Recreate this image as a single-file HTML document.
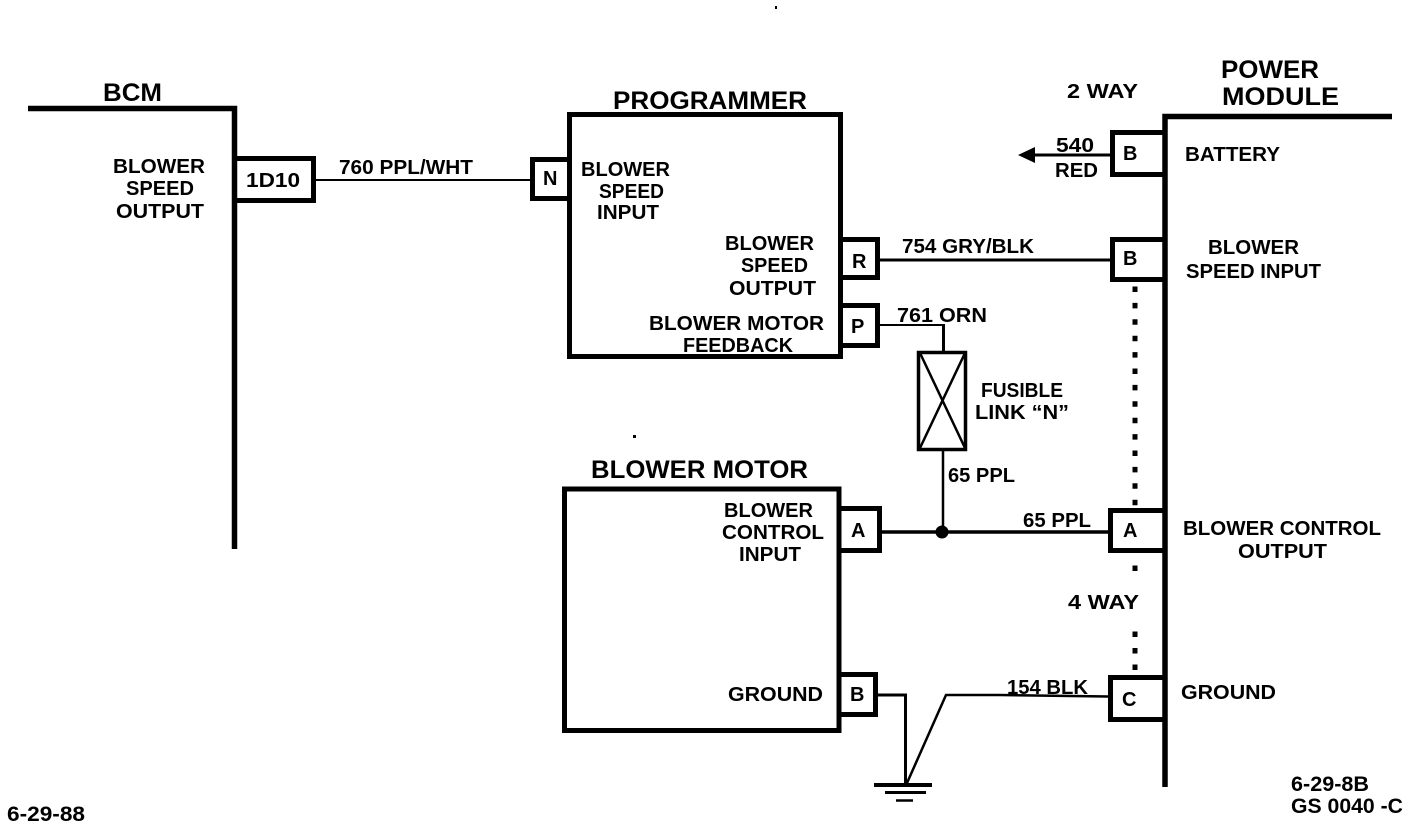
<!DOCTYPE html>
<html><head><meta charset="utf-8"><style>
html,body{margin:0;padding:0;background:#fff;width:1408px;height:828px;overflow:hidden}
svg{display:block}
text{font-family:"Liberation Sans",sans-serif;font-weight:bold;fill:#000;font-size:20px}
.t{font-size:25px}
.s{font-size:21px}
</style></head><body>
<svg width="1408" height="828" viewBox="0 0 1408 828">
<g fill="none" stroke="#000" stroke-width="5">
<path d="M28 108.5H234.5V549" stroke-width="5.5"/>
<rect x="569.5" y="114.5" width="271" height="242"/>
<rect x="564.5" y="489" width="274.5" height="241.5"/>
<path d="M1392 116.5H1165V787" stroke-width="5.5"/>
<path d="M237 158.5H313.5V200.5H237"/>
<path d="M568 159.5H532.5V198.5H568"/>
<path d="M842 239.5H877.5V277.5H842"/>
<path d="M842 305.5H877.5V345.5H842"/>
<path d="M840 508.5H879.5V550.5H840"/>
<path d="M840 674.5H875.5V714.5H840"/>
<path d="M1163 132.5H1112.5V174.5H1163"/>
<path d="M1163 239.5H1112.5V279.5H1163"/>
<path d="M1163 510.5H1110.5V550.5H1163"/>
<path d="M1163 677.5H1110.5V719.5H1163"/>
</g>
<g fill="none" stroke="#000" stroke-width="2">
<path d="M316 180H531"/>
<path d="M1034 155H1110" stroke-width="3"/>
<path d="M880 260H1110" stroke-width="3"/>
<path d="M880 325H943"/>
<path d="M943.5 324V352" stroke-width="3"/>
<rect x="918.5" y="352.5" width="47" height="97" stroke-width="3.5"/>
<path d="M920 353L965 448M965 353L920 448" stroke-width="2.5"/>
<path d="M943 450V532" stroke-width="2.5"/>
<path d="M882 532H1108" stroke-width="3.5"/>
<path d="M878 695H905.5V784" stroke-width="3"/>
<path d="M907 783L946 695H1000L1108 696.5" stroke-width="2.5"/>
<path d="M874 785H932" stroke-width="4"/>
<path d="M885 792.5H926" stroke-width="3"/>
<path d="M896 800.5H913" stroke-width="2.5"/>
</g>
<path d="M1018 155L1035 147V163Z"/>
<circle cx="942" cy="532" r="6.5"/>
<rect x="775" y="6" width="2" height="3"/>
<rect x="633" y="435" width="3" height="3"/>
<path d="M1135 286.5V506" stroke="#000" stroke-width="5" stroke-dasharray="5.5 10.9" fill="none"/>
<path d="M1135 565.5v5.5M1135 631.5v5.5M1135 648v5.5M1135 664.5v5.5" stroke="#000" stroke-width="5" fill="none"/>

<text class="t" x="103" y="101" textLength="59" lengthAdjust="spacingAndGlyphs">BCM</text>
<text x="113" y="173" textLength="92" lengthAdjust="spacingAndGlyphs">BLOWER</text>
<text x="126" y="195" textLength="68" lengthAdjust="spacingAndGlyphs">SPEED</text>
<text x="116" y="218" textLength="88" lengthAdjust="spacingAndGlyphs">OUTPUT</text>
<text x="246" y="187" textLength="54" lengthAdjust="spacingAndGlyphs">1D10</text>
<text x="339" y="174" textLength="134" lengthAdjust="spacingAndGlyphs">760 PPL/WHT</text>
<text x="543" y="185">N</text>

<text class="t" x="613" y="109" textLength="194" lengthAdjust="spacingAndGlyphs">PROGRAMMER</text>
<text x="581" y="176" textLength="89" lengthAdjust="spacingAndGlyphs">BLOWER</text>
<text x="599" y="198" textLength="65" lengthAdjust="spacingAndGlyphs">SPEED</text>
<text x="597" y="219" textLength="62" lengthAdjust="spacingAndGlyphs">INPUT</text>
<text x="725" y="250" textLength="89" lengthAdjust="spacingAndGlyphs">BLOWER</text>
<text x="741" y="272" textLength="67" lengthAdjust="spacingAndGlyphs">SPEED</text>
<text x="729" y="295" textLength="87" lengthAdjust="spacingAndGlyphs">OUTPUT</text>
<text x="649" y="330" textLength="175" lengthAdjust="spacingAndGlyphs">BLOWER MOTOR</text>
<text x="683" y="352" textLength="110" lengthAdjust="spacingAndGlyphs">FEEDBACK</text>
<text x="852" y="268">R</text>
<text x="851" y="333">P</text>

<text x="902" y="253" textLength="132" lengthAdjust="spacingAndGlyphs">754 GRY/BLK</text>
<text x="897" y="322" textLength="90" lengthAdjust="spacingAndGlyphs">761 ORN</text>
<text x="981" y="397" textLength="82" lengthAdjust="spacingAndGlyphs">FUSIBLE</text>
<text x="975" y="419" textLength="94" lengthAdjust="spacingAndGlyphs">LINK “N”</text>
<text x="948" y="482" textLength="67" lengthAdjust="spacingAndGlyphs">65 PPL</text>

<text class="t" x="591" y="478" textLength="217" lengthAdjust="spacingAndGlyphs">BLOWER MOTOR</text>
<text x="724" y="517" textLength="89" lengthAdjust="spacingAndGlyphs">BLOWER</text>
<text x="722" y="539" textLength="102" lengthAdjust="spacingAndGlyphs">CONTROL</text>
<text x="739" y="561" textLength="62" lengthAdjust="spacingAndGlyphs">INPUT</text>
<text x="728" y="701" textLength="95" lengthAdjust="spacingAndGlyphs">GROUND</text>
<text x="851" y="537">A</text>
<text x="850" y="701">B</text>

<text x="1023" y="527" textLength="68" lengthAdjust="spacingAndGlyphs">65 PPL</text>
<text x="1007" y="694" textLength="81" lengthAdjust="spacingAndGlyphs">154 BLK</text>
<text x="1067" y="98" textLength="71" lengthAdjust="spacingAndGlyphs">2 WAY</text>
<text x="1056" y="152" textLength="38" lengthAdjust="spacingAndGlyphs">540</text>
<text x="1055" y="177" textLength="43" lengthAdjust="spacingAndGlyphs">RED</text>
<text x="1123" y="160">B</text>
<text x="1123" y="265">B</text>
<text x="1123" y="537">A</text>
<text x="1122" y="706">C</text>
<text x="1068" y="609" textLength="71" lengthAdjust="spacingAndGlyphs">4 WAY</text>

<text class="t" x="1221" y="78" textLength="98" lengthAdjust="spacingAndGlyphs">POWER</text>
<text class="t" x="1222" y="105" textLength="117" lengthAdjust="spacingAndGlyphs">MODULE</text>
<text x="1185" y="161" textLength="95" lengthAdjust="spacingAndGlyphs">BATTERY</text>
<text x="1208" y="254" textLength="91" lengthAdjust="spacingAndGlyphs">BLOWER</text>
<text x="1186" y="278" textLength="135" lengthAdjust="spacingAndGlyphs">SPEED INPUT</text>
<text x="1183" y="535" textLength="198" lengthAdjust="spacingAndGlyphs">BLOWER CONTROL</text>
<text x="1238" y="558" textLength="89" lengthAdjust="spacingAndGlyphs">OUTPUT</text>
<text x="1181" y="699" textLength="95" lengthAdjust="spacingAndGlyphs">GROUND</text>
<text class="s" x="1291" y="791" textLength="78" lengthAdjust="spacingAndGlyphs">6-29-8B</text>
<text class="s" x="1291" y="813" textLength="112" lengthAdjust="spacingAndGlyphs">GS 0040 -C</text>
<text class="s" x="7" y="821" textLength="78" lengthAdjust="spacingAndGlyphs">6-29-88</text>
</svg>
</body></html>
